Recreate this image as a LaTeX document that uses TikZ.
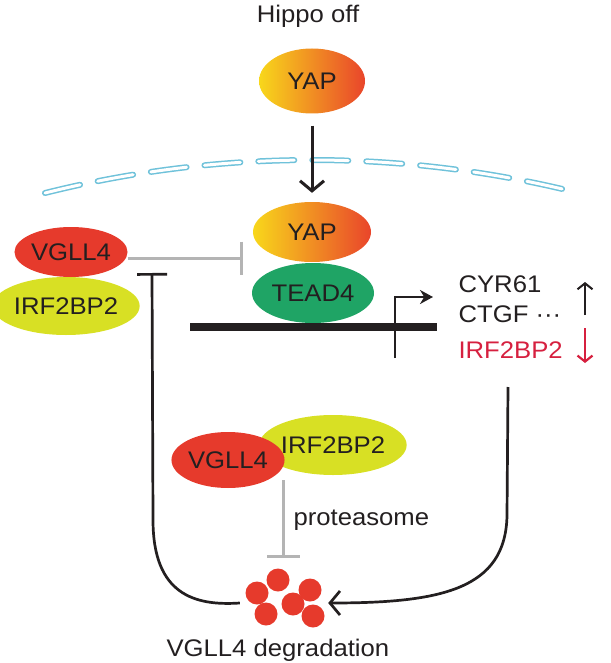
\documentclass[tikz,border=0pt]{standalone}
\usepackage{fontspec}
\setmainfont[FakeStretch=1.07]{Liberation Sans}
\usetikzlibrary{shapes.geometric,arrows.meta}
\definecolor{txt}{HTML}{231F20}
\definecolor{vred}{HTML}{E63A2C}
\definecolor{irfy}{HTML}{D8E024}
\definecolor{teadg}{HTML}{1FA465}
\definecolor{yapl}{HTML}{F8D71B}
\definecolor{yapr}{HTML}{E9452B}
\definecolor{mblue}{HTML}{6FC2DA}
\definecolor{inhgray}{HTML}{B4B4B4}
\definecolor{downred}{HTML}{D6203F}
\begin{document}
\begin{tikzpicture}[x=1pt,y=-1pt,
  every node/.style={font=\fontsize{24}{28}\selectfont, text=txt},
  prot/.style={ellipse, inner sep=0pt, draw=none},
  yapbox/.style={prot, left color=yapl, right color=yapr},
  vgbox/.style={prot, fill=vred},
  irfbox/.style={prot, fill=irfy},
  teadbox/.style={prot, fill=teadg},
  dotc/.style={circle, fill=vred, inner sep=0pt, minimum size=23pt},
  memb/.style={draw=mblue, line width=1.5pt, double=white, double distance=3pt, line cap=round, dash pattern=on 36pt off 18pt},
  blk/.style={draw=txt, line width=2.7pt},
  grayinh/.style={draw=inhgray, line width=3pt, -{Bar[width=33pt]}},
  barb/.style={-{Straight Barb[length=10pt,width=24pt]}}
]
\useasboundingbox (0,0) rectangle (610,663);

% title
\node[anchor=base] (hippo) at (308,23) {Hippo off};

% membrane
\draw[memb] (45,193) arc[start angle=255.91, end angle=284.09, radius=1096.6];

% top YAP and nuclear entry
\node[yapbox, minimum width=106pt, minimum height=65pt] (yap1) at (312,81) {YAP};
\node[yapbox, minimum width=118pt, minimum height=60pt] (yap2) at (312,232) {YAP};
\node[teadbox, minimum width=122pt, minimum height=60pt] (tead) at (313,293) {TEAD4};
\draw[blk, line width=3pt, barb, shorten <=12pt, shorten >=9pt] (yap1) -- (yap2);

% left complex
\node[irfbox, minimum width=114pt, minimum height=58pt] (irf1) at (66,306) {IRF2BP2};
\node[vgbox, minimum width=108pt, minimum height=50pt] (vg1) at (71,252) {VGLL4};
\coordinate (inhT) at (243,258);
\draw[grayinh] (vg1.east |- inhT) -- (inhT);

% DNA and promoter
\coordinate (dnaL) at (190,327);
\coordinate (dnaR) at (437,327);
\draw[draw=txt, line width=8pt] (dnaL) -- (dnaR);
\coordinate (prA) at (395,358);
\coordinate (prB) at (433,297);
\draw[draw=txt, line width=2.2pt, -{Stealth[length=13pt,width=14pt]}] (prA) |- (prB);

% target genes
\node[anchor=base west] (cyr) at (455,292) {CYR61};
\node[anchor=base west] (ctgf) at (455,322) {CTGF ···};
\node[anchor=base west, text=downred] (irfg) at (455,358) {IRF2BP2};
\coordinate (upA) at (585,315);
\coordinate (upB) at (585,282);
\coordinate (dnA) at (585,328);
\coordinate (dnB) at (585,363);
\draw[draw=txt, line width=2pt, -{Straight Barb[length=6pt,width=15pt]}] (upA) -- (upB);
\draw[draw=downred, line width=2.2pt, -{Straight Barb[length=6pt,width=15pt]}] (dnA) -- (dnB);

% lower complex
\node[irfbox, minimum width=120pt, minimum height=60pt] (irf2) at (333,445) {IRF2BP2};
\node[vgbox, minimum width=106pt, minimum height=56pt] (vg2) at (228,460) {VGLL4};
\coordinate (ptA) at (283,480);
\coordinate (ptB) at (283,558);
\draw[grayinh] (ptA) -- (ptB);
\node[anchor=base west] (prot) at (290,525) {proteasome};

% degradation cluster
\node[minimum width=88pt, minimum height=50pt, inner sep=0pt] (deg) at (284,603) {};
\node[dotc] (d1) at (278,580) {};
\node[dotc] (d2) at (257,593) {};
\node[dotc] (d3) at (266,614) {};
\node[dotc] (d4) at (310,590) {};
\node[dotc] (d5) at (293,604) {};
\node[dotc] (d6) at (313,616) {};
\node[anchor=base west] (degtxt) at (163,656) {VGLL4 degradation};

% feedback loops
\coordinate (lTop) at (152,273);
\draw[blk, -{Bar[width=30pt]}] (deg.west) .. controls (195,606) and (153,595) .. (153,520) -- (lTop);
\coordinate (rTop) at (508,387);
\draw[blk, barb] (rTop) -- (507,515) .. controls (506,590) and (440,603) .. (deg.east);
\end{tikzpicture}
\end{document}
